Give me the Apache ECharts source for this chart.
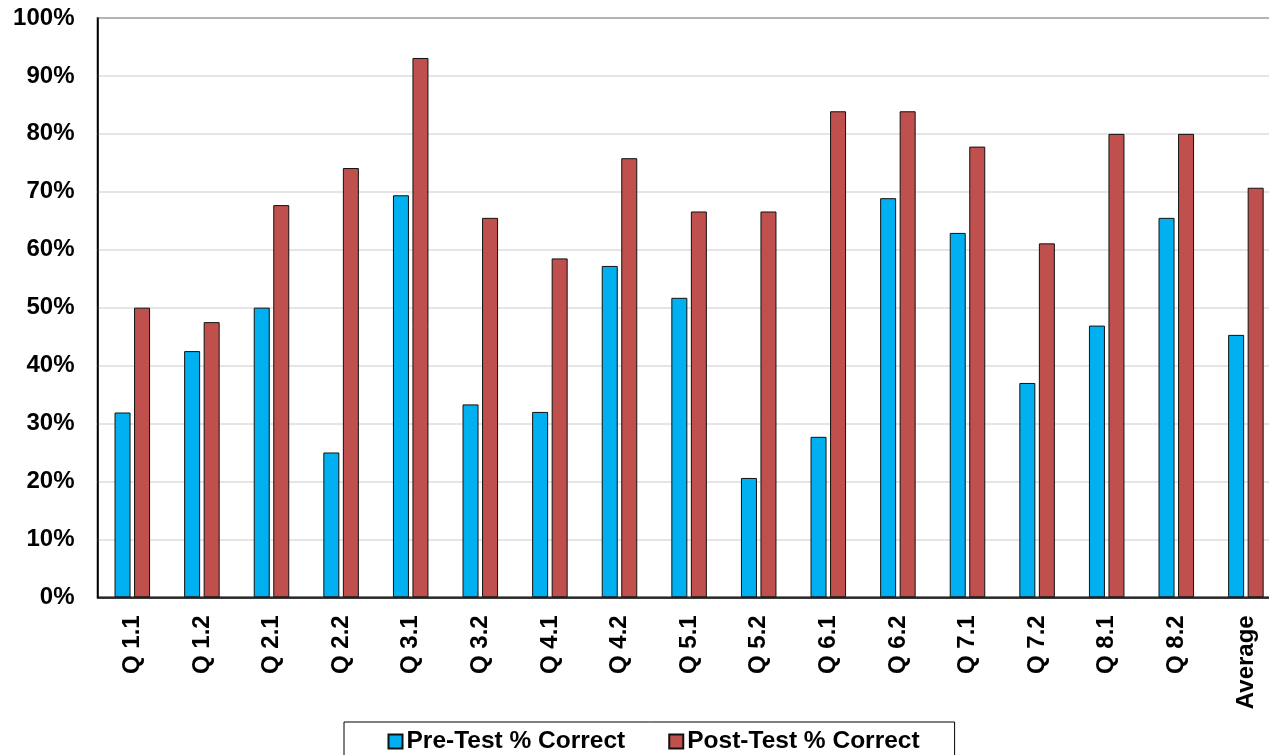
<!DOCTYPE html>
<html>
<head>
<meta charset="utf-8">
<script src="https://cdn.jsdelivr.net/npm/echarts@6/dist/echarts.min.js"></script>
<style>
  html, body { margin: 0; padding: 0; background: #fff; }
  #chart { width: 1269px; height: 755px; }
</style>
</head>
<body>
<div id="chart"></div>
<script>
// Question labels along the x axis
const categories = ['Q 1.1', 'Q 1.2', 'Q 2.1', 'Q 2.2', 'Q 3.1', 'Q 3.2', 'Q 4.1', 'Q 4.2',
  'Q 5.1', 'Q 5.2', 'Q 6.1', 'Q 6.2', 'Q 7.1', 'Q 7.2', 'Q 8.1', 'Q 8.2', 'Average'];

// Percent of answers correct per question
const preTest = [31.9, 42.5, 50.0, 25.0, 69.4, 33.3, 32.0, 57.2,
  51.7, 20.6, 27.7, 68.9, 62.9, 37.0, 46.9, 65.5, 45.3];
const postTest = [50.0, 47.5, 67.7, 74.1, 93.1, 65.5, 58.5, 75.8,
  66.6, 66.6, 83.9, 83.9, 77.8, 61.1, 80.0, 80.0, 70.7];

const seriesNames = ['Pre-Test % Correct', 'Post-Test % Correct'];

const FONT = '"Liberation Sans", Arial, Helvetica, sans-serif';

const chart = echarts.init(document.getElementById('chart'), null, { renderer: 'canvas' });

chart.setOption({
  animation: false,
  backgroundColor: '#ffffff',
  textStyle: { fontFamily: FONT },
  grid: {
    left: 97.5,
    top: 18,
    bottom: 157.7,
    right: -11.7,
    outerBoundsMode: 'none',
    containLabel: false,
    show: true,
    borderColor: '#000',
    borderWidth: 1.5
  },
  legend: {
    data: seriesNames,
    left: 344,
    top: 722,
    padding: [7, 35, 12, 43.5],
    borderColor: '#000',
    borderWidth: 1,
    itemWidth: 14,
    itemHeight: 14,
    itemGap: 43,
    icon: 'rect',
    textStyle: { fontFamily: FONT, fontWeight: 'bold', fontSize: 24.5, color: '#000', padding: [2, 0, 0, -1] }
  },
  xAxis: {
    type: 'category',
    data: categories,
    axisLine: { lineStyle: { color: '#000', width: 1.5 } },
    axisTick: { show: false },
    axisLabel: {
      rotate: 90,
      margin: 18,
      fontFamily: FONT,
      fontWeight: 'bold',
      fontSize: 24,
      color: '#000'
    }
  },
  yAxis: {
    type: 'value',
    min: 0,
    max: 100,
    interval: 10,
    axisLine: { show: true, lineStyle: { color: '#000', width: 1.5 } },
    axisTick: { show: false },
    splitLine: { lineStyle: { color: '#dcdcdc', width: 1.5 } },
    axisLabel: {
      formatter: '{value}%',
      margin: 23,
      fontFamily: FONT,
      fontWeight: 'bold',
      fontSize: 24,
      color: '#000'
    }
  },
  series: [
    {
      name: seriesNames[0],
      type: 'bar',
      data: preTest,
      barWidth: 16,
      barGap: '22%',
      itemStyle: { color: '#00B0F0', borderColor: '#111', borderWidth: 1 }
    },
    {
      name: seriesNames[1],
      type: 'bar',
      data: postTest,
      barWidth: 16,
      barGap: '22%',
      itemStyle: { color: '#C0504D', borderColor: '#111', borderWidth: 1 }
    }
  ]
});
</script>
</body>
</html>
